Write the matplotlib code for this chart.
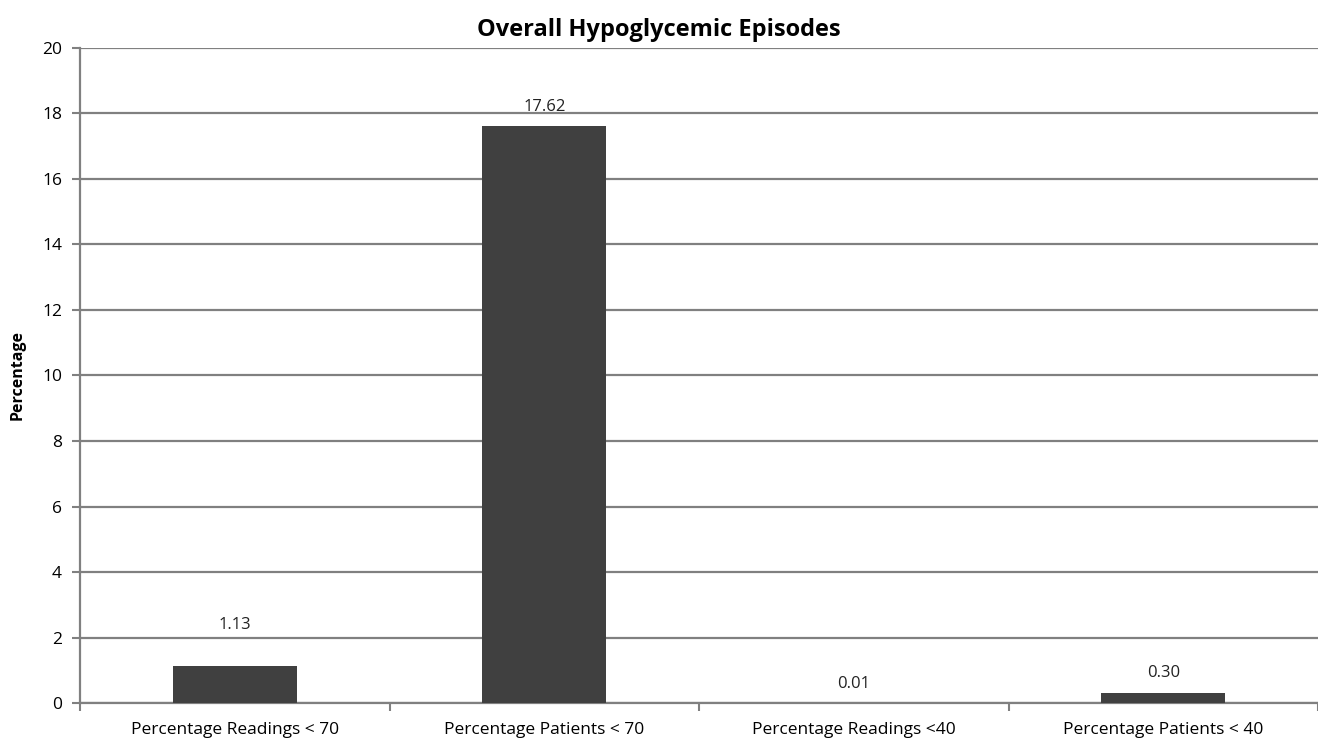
import numpy as np
import matplotlib
matplotlib.use("Agg")
import matplotlib.pyplot as plt

categories = ["Percentage Readings < 70", "Percentage Patients < 70",
              "Percentage Readings <40", "Percentage Patients < 40"]
values = [1.13, 17.62, 0.01, 0.30]
value_labels = ["1.13", "17.62", "0.01", "0.30"]
yticks = [0, 2, 4, 6, 8, 10, 12, 14, 16, 18, 20]

plt.rcParams["font.family"] = ["Open Sans", "DejaVu Sans"]

fig = plt.figure(figsize=(13.18, 7.38), dpi=100)
ax = fig.add_axes([0.0607, 0.0474, 0.9393, 0.8876])

x = np.arange(len(categories))
ax.bar(x, values, width=0.4, color="#404040", zorder=3)

# label offsets in points (the first label sits higher in the original)
pads = [24, 8, 8, 9]
for xi, v, lab, p in zip(x, values, value_labels, pads):
    ax.annotate(lab, (xi, v), xytext=(0, p), textcoords="offset points",
                ha="center", va="bottom", fontsize=12, color="#222222")

ax.set_xlim(-0.5, len(categories) - 0.5)
ax.set_ylim(0, 20)
ax.set_yticks(yticks)
ax.set_yticklabels([str(t) for t in yticks], fontsize=12.5)
ax.yaxis.grid(True, color="#808080", linewidth=1.6, zorder=0)
ax.set_axisbelow(True)

ax.set_xticks(x)
ax.set_xticklabels(categories, fontsize=12.5)
ax.set_xticks(np.arange(len(categories) + 1) - 0.5, minor=True)
ax.tick_params(axis="x", which="major", length=0, pad=14)
ax.tick_params(axis="x", which="minor", length=6, width=1.5, color="#808080")
ax.tick_params(axis="y", length=6, width=1.5, color="#808080", pad=7)

for s in ["top", "right"]:
    ax.spines[s].set_visible(False)
for s in ["left", "bottom"]:
    ax.spines[s].set_color("#808080")
    ax.spines[s].set_linewidth(1.6)

# y label placed near the left edge of the figure
fig.text(18 / 1318, 0.5 * (0.0474 + 0.935), "Percentage", rotation=90,
         ha="center", va="center", fontsize=11.5, fontweight="bold")

fig.suptitle("Overall Hypoglycemic Episodes", x=0.5, y=1 - 30 / 738,
             va="center", fontsize=17, fontweight="bold")

fig.savefig("out.png", dpi=100)
